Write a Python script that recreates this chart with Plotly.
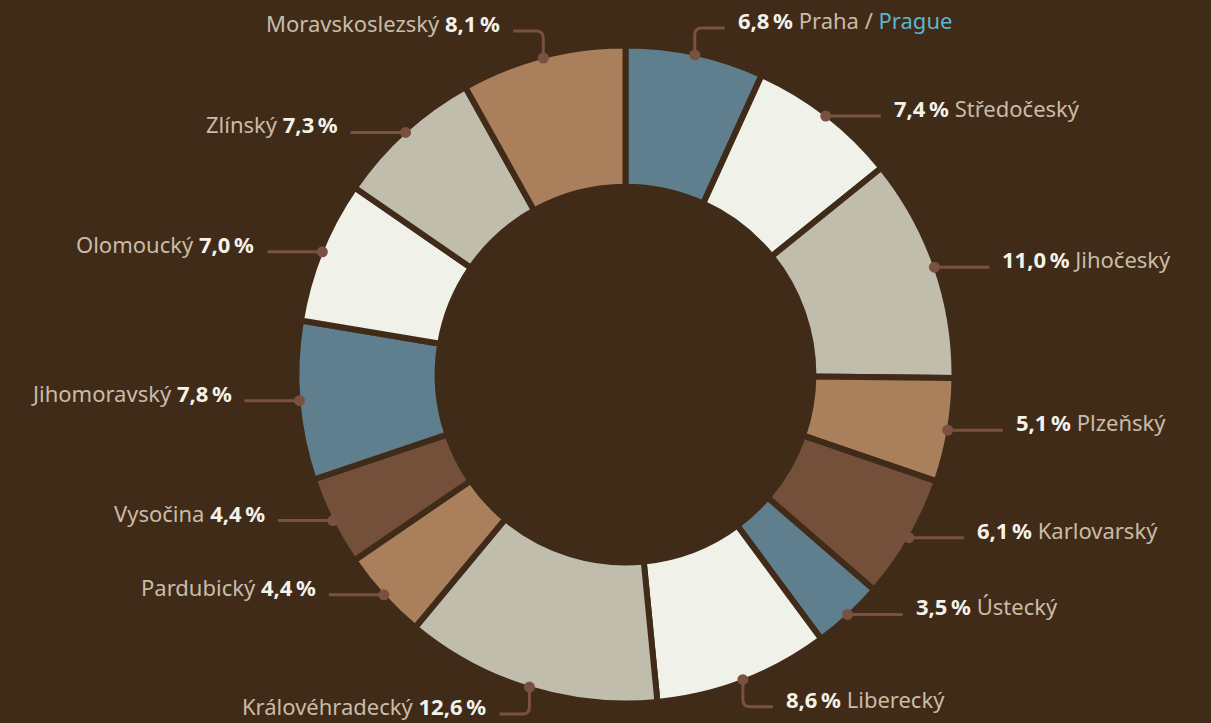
import math
import plotly.graph_objects as go

# ---- data ----
regions = ["Praha", "Středočeský", "Jihočeský", "Plzeňský", "Karlovarský",
           "Ústecký", "Liberecký", "Královéhradecký", "Pardubický", "Vysočina",
           "Jihomoravský", "Olomoucký", "Zlínský", "Moravskoslezský"]
shares = [6.8, 7.4, 11.0, 5.1, 6.1, 3.5, 8.6, 12.6, 4.4, 4.4, 7.8, 7.0, 7.3, 8.1]
english_names = {"Praha": "Prague"}

# ---- style ----
W, H = 1211, 723
BG = "#402b19"
palette = ["#5f7f8e", "#f0f1e8", "#c0bdad", "#a97f5c", "#744f3a"]
colors = [palette[i % len(palette)] for i in range(len(shares))]
LEADER = "#7a5140"
NAME_C = "#c9bca7"
NUM_C = "#f4f2ea"
EN_C = "#5db6cb"
FONT = "Noto Sans"
FS = 22

CX, CY = 625.5, 374.5        # pie centre in px
R_DOM = 329                  # plotly pie radius in px
HOLE = 0.571

fig = go.Figure()
fig.add_trace(go.Pie(
    values=shares, labels=regions, sort=False, direction="clockwise",
    rotation=0, hole=HOLE, textinfo="none", hoverinfo="skip",
    showlegend=False,
    marker=dict(colors=colors, line=dict(color=BG, width=6)),
    domain=dict(x=[(CX - R_DOM) / W, (CX + R_DOM) / W],
                y=[1 - (CY + R_DOM) / H, 1 - (CY - R_DOM) / H]),
))

shapes, annotations = [], []
total = sum(shares)
cum = 0.0
RD = 327
for name, v in zip(regions, shares):
    mid = (cum + v / 2) / total * 2 * math.pi
    cum += v
    dx, dy = math.sin(mid), -math.cos(mid)
    px, py = CX + RD * dx, CY + RD * dy
    right = dx >= 0
    sgn = 1 if right else -1
    pct = f"<b>{v:.1f}".replace(".", ",") + "\u2009%</b>"
    pct = f"<span style='color:{NUM_C}'>{pct}</span>"
    nm = name
    if name in english_names:
        nm = f"{name} / <span style='color:{EN_C}'>{english_names[name]}</span>"
    nm = f"<span style='color:{NAME_C}'>{nm}</span>"
    text = f"{pct} {nm}" if right else f"{nm} {pct}"

    deg = math.degrees(mid) % 360
    near_vertical = min(abs(deg), abs(deg - 180), abs(deg - 360)) < 25
    if near_vertical:
        vs = -1 if dy < 0 else 1
        hy = py + vs * 27
        ex = px + sgn * 30
        rr = 7
        path = (f"M {px},{py} L {px},{hy - vs * rr} "
                f"Q {px},{hy} {px + sgn * rr},{hy} L {ex},{hy}")
        shapes.append(dict(type="path", path=path, xref="x", yref="y",
                           line=dict(color=LEADER, width=3)))
        ly = hy
        tx = ex + sgn * 11
    else:
        ex = px + sgn * 55
        shapes.append(dict(type="line", x0=px, y0=py, x1=ex, y1=py,
                           xref="x", yref="y",
                           line=dict(color=LEADER, width=3)))
        ly = py
        tx = ex + sgn * 11
    shapes.append(dict(type="circle", xref="x", yref="y",
                       x0=px - 5.5, x1=px + 5.5, y0=py - 5.5, y1=py + 5.5,
                       fillcolor=LEADER, line=dict(width=0)))
    annotations.append(dict(x=tx, y=ly - 8, xref="x", yref="y", text=text,
                            showarrow=False,
                            xanchor="left" if right else "right",
                            yanchor="middle",
                            font=dict(family=FONT, size=FS, color=NAME_C)))

fig.update_layout(
    width=W, height=H, paper_bgcolor=BG, plot_bgcolor=BG,
    margin=dict(l=0, r=0, t=0, b=0),
    xaxis=dict(range=[0, W], visible=False, fixedrange=True, domain=[0, 1]),
    yaxis=dict(range=[H, 0], visible=False, fixedrange=True, domain=[0, 1]),
    shapes=shapes, annotations=annotations,
    font=dict(family=FONT, size=FS),
)
fig.write_html(
    "out.html",
    config={"displayModeBar": False},
    post_script=("document.body.style.margin='0';"
                 "document.body.style.background='" + BG + "';"
                 "document.body.style.overflow='hidden';"),
)
